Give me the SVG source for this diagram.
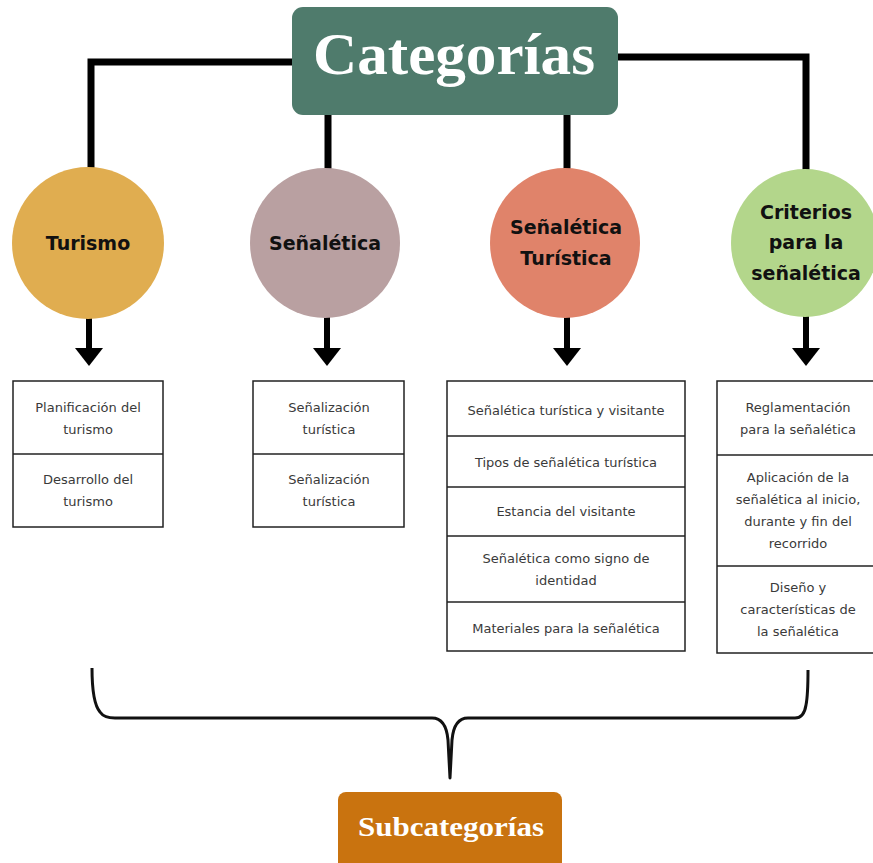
<svg xmlns="http://www.w3.org/2000/svg" width="873" height="863" viewBox="0 0 873 863">
<style>
.conn{fill:none;stroke:#000;stroke-width:7}
.arr{fill:none;stroke:#000;stroke-width:6}
.head{fill:#000}
.circ-t{font-family:"DejaVu Sans",sans-serif;font-weight:bold;font-size:19px;fill:#111;text-anchor:middle}
.box{fill:#fff;stroke:#222;stroke-width:1.5}
.div{stroke:#222;stroke-width:1.5}
.bt{font-family:"DejaVu Sans",sans-serif;font-size:13px;fill:#3a3a3a;text-anchor:middle}
.title{font-family:"Liberation Serif","Times New Roman",serif;font-weight:bold;fill:#fff;text-anchor:middle}
.brace{fill:none;stroke:#111;stroke-width:3;stroke-linejoin:round}
</style>
<rect width="873" height="863" fill="#fff"/>
<g id="connectors">
  <polyline class="conn" points="91,170 91,62 295,62"/>
  <polyline class="conn" points="614,57 806,57 806,170"/>
  <line class="conn" x1="328" y1="112" x2="328" y2="170"/>
  <line class="conn" x1="567" y1="112" x2="567" y2="170"/>
  <line class="arr" x1="89" y1="316" x2="89" y2="352"/>
  <polygon class="head" points="75,348 103,348 89,366"/>
  <line class="arr" x1="327" y1="316" x2="327" y2="352"/>
  <polygon class="head" points="313,348 341,348 327,366"/>
  <line class="arr" x1="567" y1="316" x2="567" y2="352"/>
  <polygon class="head" points="553,348 581,348 567,366"/>
  <line class="arr" x1="806" y1="316" x2="806" y2="352"/>
  <polygon class="head" points="792,348 820,348 806,366"/>
  <path class="brace" d="M92,668 C92,690 94,705 100,712 Q104,718 115,718 L432,718 Q446,718 448,740 L450,778 L452,740 Q454,718 468,718 L795,718 Q804,718 806,705 C808,695 808,685 808,670"/>
</g>
<g id="categorias">
  <rect x="292" y="7" width="326" height="108" rx="11" fill="#4f7b6c"/>
  <text class="title" x="454" y="74" font-size="60" textLength="282" lengthAdjust="spacingAndGlyphs">Categorías</text>
</g>
<g id="turismo">
  <circle cx="88" cy="243" r="76" fill="#e0ad50"/>
  <text class="circ-t" x="88" y="250">Turismo</text>
</g>
<g id="senaletica">
  <circle cx="325" cy="243" r="75" fill="#b9a0a1"/>
  <text class="circ-t" x="325" y="250">Señalética</text>
</g>
<g id="senaletica-turistica">
  <circle cx="565" cy="243" r="75" fill="#e0836a"/>
  <text class="circ-t" x="566" y="234">Señalética</text>
  <text class="circ-t" x="566" y="265">Turística</text>
</g>
<g id="criterios">
  <circle cx="805" cy="243" r="74" fill="#b3d68b"/>
  <text class="circ-t" x="806" y="219">Criterios</text>
  <text class="circ-t" x="806" y="249">para la</text>
  <text class="circ-t" x="806" y="280">señalética</text>
</g>
<g id="box-turismo">
  <rect class="box" x="13" y="381" width="150" height="146"/>
  <line class="div" x1="13" y1="454" x2="163" y2="454"/>
  <text class="bt" x="88" y="412">Planificación del</text>
  <text class="bt" x="88" y="434">turismo</text>
  <text class="bt" x="88" y="484">Desarrollo del</text>
  <text class="bt" x="88" y="506">turismo</text>
</g>
<g id="box-senaletica">
  <rect class="box" x="253" y="381" width="151" height="146"/>
  <line class="div" x1="253" y1="454" x2="404" y2="454"/>
  <text class="bt" x="329" y="412">Señalización</text>
  <text class="bt" x="329" y="434">turística</text>
  <text class="bt" x="329" y="484">Señalización</text>
  <text class="bt" x="329" y="506">turística</text>
</g>
<g id="box-senaletica-turistica">
  <rect class="box" x="447" y="381" width="238" height="270"/>
  <line class="div" x1="447" y1="436" x2="685" y2="436"/>
  <line class="div" x1="447" y1="487" x2="685" y2="487"/>
  <line class="div" x1="447" y1="536" x2="685" y2="536"/>
  <line class="div" x1="447" y1="602" x2="685" y2="602"/>
  <text class="bt" x="566" y="415">Señalética turística y visitante</text>
  <text class="bt" x="566" y="467">Tipos de señalética turística</text>
  <text class="bt" x="566" y="516">Estancia del visitante</text>
  <text class="bt" x="566" y="563">Señalética como signo de</text>
  <text class="bt" x="566" y="585">identidad</text>
  <text class="bt" x="566" y="633">Materiales para la señalética</text>
</g>
<g id="box-criterios">
  <rect class="box" x="717" y="381" width="160" height="272"/>
  <line class="div" x1="717" y1="455" x2="877" y2="455"/>
  <line class="div" x1="717" y1="566" x2="877" y2="566"/>
  <text class="bt" x="798" y="412">Reglamentación</text>
  <text class="bt" x="798" y="434">para la señalética</text>
  <text class="bt" x="798" y="482">Aplicación de la</text>
  <text class="bt" x="798" y="504">señalética al inicio,</text>
  <text class="bt" x="798" y="526">durante y fin del</text>
  <text class="bt" x="798" y="548">recorrido</text>
  <text class="bt" x="798" y="592">Diseño y</text>
  <text class="bt" x="798" y="614">características de</text>
  <text class="bt" x="798" y="636">la señalética</text>
</g>
<g id="subcategorias">
  <rect x="338" y="792" width="224" height="80" rx="8" fill="#c9730f"/>
  <text class="title" x="451" y="836" font-size="27" textLength="186" lengthAdjust="spacingAndGlyphs">Subcategorías</text>
</g>
</svg>
